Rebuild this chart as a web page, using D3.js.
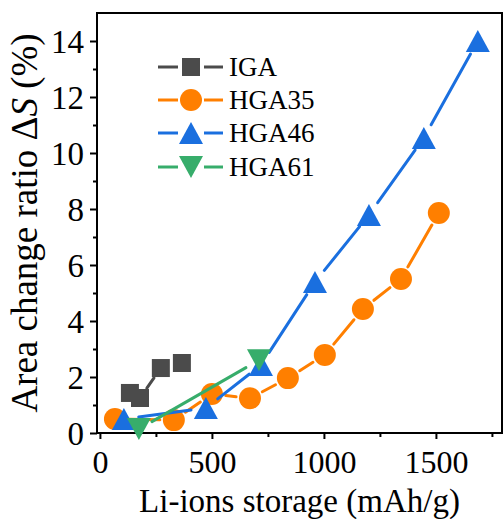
<!DOCTYPE html>
<html>
<head>
<meta charset="utf-8">
<script src="https://cdn.jsdelivr.net/npm/d3@7"></script>
<style>
    body { margin: 0; background: #fff; }
    svg { display: block; }
</style>
</head>
<body>
<div id="chart"></div>
<script>
// data
const igaX = [134, 179, 272, 366];
const igaY = [1.43, 1.25, 2.32, 2.5];

const hga35X = [67, 330, 500, 670, 839, 1004, 1174, 1344, 1513];
const hga35Y = [0.5, 0.46, 1.39, 1.24, 1.96, 2.79, 4.43, 5.5, 7.86];

const hga46X = [107, 473, 719, 960, 1201, 1446, 1687];
const hga46Y = [0.5, 0.89, 2.43, 5.39, 7.79, 10.54, 14.0];

const hga61X = [174, 710];
const hga61Y = [0.14, 2.6];

const xTicks = [0, 500, 1000, 1500];
const xMinor = [250, 750, 1250, 1750];
const yTicks = [0, 2, 4, 6, 8, 10, 12, 14];
const yMinor = [1, 3, 5, 7, 9, 11, 13];

const series = [
    {name: 'IGA',   xs: igaX,   ys: igaY,   color: '#4b4b4b', shape: 'square'},
    {name: 'HGA35', xs: hga35X, ys: hga35Y, color: '#ff7f00', shape: 'circle'},
    {name: 'HGA46', xs: hga46X, ys: hga46Y, color: '#1a6fdf', shape: 'up'},
    {name: 'HGA61', xs: hga61X, ys: hga61Y, color: '#37ad6b', shape: 'down'}
];

const font = "'Liberation Serif', LiberationSerif, Tinos, 'Times New Roman', 'Noto Serif', 'DejaVu Serif', FreeSerif, serif";

let width = 504, height = 519;
let margin = {top: 13, left: 97, right: 2, bottom: 86};

let svg = d3.select('#chart').append('svg')
    .attr('width', width)
    .attr('height', height)
    .attr('font-family', font);

let x = d3.scaleLinear().domain([-13, 1795]).range([margin.left, width - margin.right]);
let y = d3.scaleLinear().domain([0, 15]).range([height - margin.bottom, margin.top]);

// marker path centred on 0,0
function markerPath(shape) {
    if (shape == 'square') return 'M-9,-9H9V9H-9Z';
    if (shape == 'circle') return d3.symbol(d3.symbolCircle, Math.PI * 11 * 11)();
    if (shape == 'up') return 'M0,-11L12,11L-12,11Z';
    return 'M0,11L12,-11L-12,-11Z';
}

function markerHalf(shape) {
    return shape == 'square' ? 9 : (shape == 'circle' ? 11 : 12);
}

// axes: left & bottom with outward ticks
let yAxis = svg.append('g').attr('transform', `translate(${margin.left},0)`);
yAxis.call(d3.axisLeft(y).tickValues(yTicks).tickSize(7).tickFormat(d3.format('d')));
yAxis.append('g').attr('class', 'minor')
    .call(d3.axisLeft(y).tickValues(yMinor).tickSize(4).tickFormat(''));
yAxis.selectAll('.domain').remove();
yAxis.selectAll('.minor text').remove();   // minor ticks have no labels
yAxis.attr('font-family', font);
yAxis.selectAll('line').attr('stroke', '#000').attr('stroke-width', 2);
yAxis.selectAll('text')
    .attr('font-size', 33)
    .attr('x', -13)
    .attr('dy', '0.34em')
    .style('font-family', font);

let xAxis = svg.append('g').attr('transform', `translate(0,${height - margin.bottom})`);
xAxis.call(d3.axisBottom(x).tickValues(xTicks).tickSize(6).tickFormat(d3.format('d')));
xAxis.append('g').attr('class', 'minor')
    .call(d3.axisBottom(x).tickValues(xMinor).tickSize(4).tickFormat(''));
xAxis.selectAll('.domain').remove();
xAxis.selectAll('.minor text').remove();
xAxis.attr('font-family', font);
xAxis.selectAll('line').attr('stroke', '#000').attr('stroke-width', 2);
xAxis.selectAll('text')
    .attr('font-size', 32)
    .attr('y', 40)
    .attr('dy', 0)
    .style('font-family', font);

// frame
svg.append('rect')
    .attr('x', margin.left)
    .attr('y', margin.top)
    .attr('width', width - margin.right - margin.left)
    .attr('height', height - margin.bottom - margin.top)
    .attr('fill', 'none')
    .attr('stroke', '#000')
    .attr('stroke-width', 2);

// series: line with gap to symbol, then markers
let plot = svg.append('g');
series.forEach(function(s) {
    let pts = s.xs.map((v, i) => [x(v), y(s.ys[i])]);
    let gap = markerHalf(s.shape) + 3;
    let g = plot.append('g');
    for (let i = 0; i < pts.length - 1; i++) {
        let dx = pts[i + 1][0] - pts[i][0], dy = pts[i + 1][1] - pts[i][1];
        let len = Math.sqrt(dx * dx + dy * dy);
        if (len <= 2 * gap) continue;
        let ux = dx / len, uy = dy / len;
        g.append('line')
            .attr('x1', pts[i][0] + ux * gap)
            .attr('y1', pts[i][1] + uy * gap)
            .attr('x2', pts[i + 1][0] - ux * gap)
            .attr('y2', pts[i + 1][1] - uy * gap)
            .attr('stroke', s.color)
            .attr('stroke-width', 3)
            .attr('stroke-linecap', 'round');
    }
    g.selectAll('.pt')
        .data(pts)
        .join('path')
        .attr('d', markerPath(s.shape))
        .attr('transform', d => `translate(${d[0]},${d[1]})`)
        .attr('fill', s.color);
});

// legend
let legend = svg.append('g');
let rowY = [67, 100, 133, 167];
series.forEach(function(s, i) {
    let row = legend.append('g').attr('transform', `translate(191,${rowY[i]})`);
    row.append('line').attr('x1', -33).attr('x2', -13).attr('stroke', s.color).attr('stroke-width', 3);
    row.append('line').attr('x1', 13).attr('x2', 32).attr('stroke', s.color).attr('stroke-width', 3);
    row.append('path').attr('d', markerPath(s.shape)).attr('fill', s.color);
    row.append('text')
        .attr('x', 38)
        .attr('y', 9)
        .attr('font-size', 27)
        .style('font-family', font)
        .text(s.name);
});

// axis titles
svg.append('text')
    .attr('x', (margin.left + width - margin.right) / 2)
    .attr('y', 512)
    .attr('text-anchor', 'middle')
    .attr('font-size', 33)
    .style('font-family', font)
    .text('Li-ions storage (mAh/g)');

let ytitle = svg.append('text')
    .attr('transform', `translate(37,${(margin.top + height - margin.bottom) / 2}) rotate(-90)`)
    .attr('text-anchor', 'middle')
    .attr('font-size', 37)
    .style('font-family', font);
ytitle.append('tspan').text('Area change ratio \u0394');
ytitle.append('tspan').attr('font-style', 'italic').text('S');
ytitle.append('tspan').text(' (%)');
</script>
</body>
</html>
